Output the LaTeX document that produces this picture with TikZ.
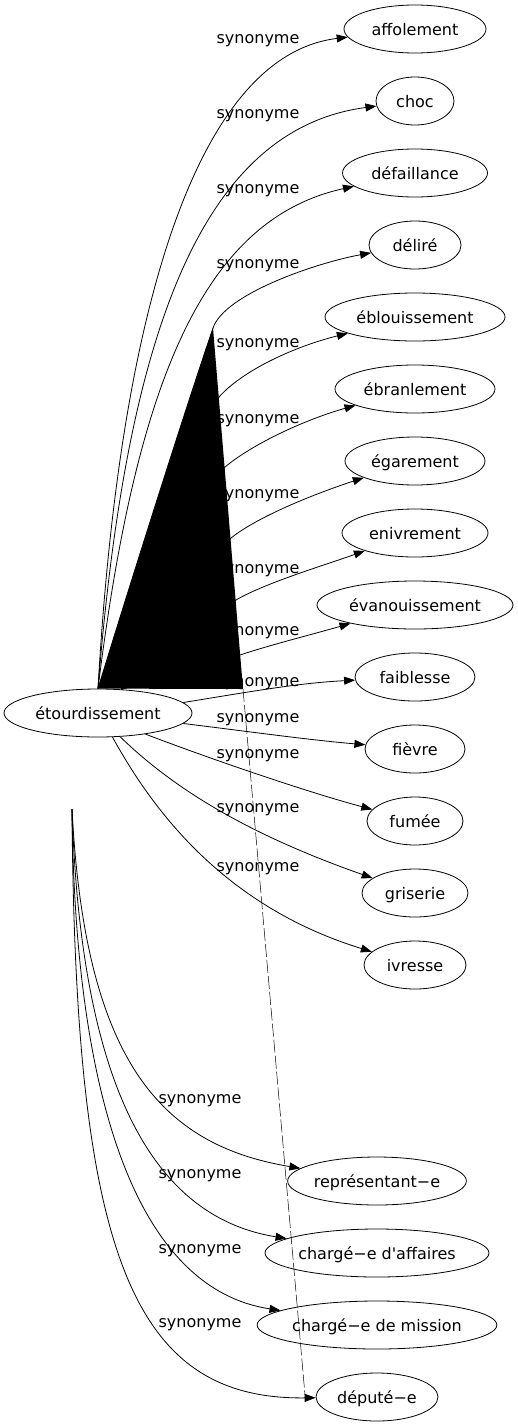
\documentclass[tikz,border=0pt]{standalone}
\usepackage{fontspec}
\newfontfamily\motfont{DejaVu Sans}
\usepackage{tikz}
\usetikzlibrary{shapes.geometric,arrows.meta}

\tikzset{
  mot/.style={ellipse, draw, line width=0.8pt, inner sep=0pt, minimum height=48pt,
    text height=12pt, text depth=0pt, font=\motfont\fontsize{16}{19}\selectfont},
  lbl/.style={inner sep=0pt, text height=10pt, text depth=0pt, font=\motfont\fontsize{16}{19}\selectfont},
  syn/.style={-{Triangle[length=11pt,width=8pt]}, line width=0.8pt},
}

\begin{document}
\begin{tikzpicture}[x=1pt, y=-1pt]
      \useasboundingbox (0,0) rectangle (518,1427);
      % Mot de depart
      \node[mot, minimum width=188pt] (etour) at (98,713) {étourdissement};
      \coordinate (hub) at (72,809);
      % Synonymes
      \node[mot, minimum width=142pt] (affol) at (415,29) {affolement};
      \node[mot, minimum width=78pt] (choc) at (415,101) {choc};
      \node[mot, minimum width=145pt] (defai) at (415,173) {défaillance};
      \node[mot, minimum width=92pt] (delir) at (415,245) {déliré};
      \node[mot, minimum width=180pt] (eblou) at (415,317) {éblouissement};
      \node[mot, minimum width=160pt] (ebran) at (415,389) {ébranlement};
      \node[mot, minimum width=140pt] (egare) at (415,461) {égarement};
      \node[mot, minimum width=146pt] (enivr) at (415,533) {enivrement};
      \node[mot, minimum width=196pt] (evano) at (415,605) {évanouissement};
      \node[mot, minimum width=120pt] (faibl) at (415,677) {faiblesse};
      \node[mot, minimum width=100pt] (fievr) at (415,749) {fièvre};
      \node[mot, minimum width=96pt] (fumee) at (415,821) {fumée};
      \node[mot, minimum width=106pt] (grise) at (415,893) {griserie};
      \node[mot, minimum width=102pt] (ivres) at (415,965) {ivresse};
      \node[mot, minimum width=178pt] (repre) at (377,1181) {représentant−e};
      \node[mot, minimum width=224pt] (chaff) at (377,1253) {chargé−e d'affaires};
      \node[mot, minimum width=238pt] (chmis) at (377,1325) {chargé−e de mission};
      \node[mot, minimum width=122pt] (deput) at (377,1397) {député−e};
      % Etiquettes
      \node[lbl] (l1) at (258,38) {synonyme};
      \node[lbl] (l2) at (258,113) {synonyme};
      \node[lbl] (l3) at (258,188) {synonyme};
      \node[lbl] (l4) at (258,263) {synonyme};
      \node[lbl] (l5) at (258,342) {synonyme};
      \node[lbl] (l6) at (258,418) {synonyme};
      \node[lbl] (l7) at (258,493) {synonyme};
      \node[lbl] (l8) at (258,568) {synonyme};
      \node[lbl] (l9) at (258,630) {synonyme};
      \node[lbl] (l10) at (258,681) {synonyme};
      \node[lbl] (l11) at (258,717) {synonyme};
      \node[lbl] (l12) at (258,753) {synonyme};
      \node[lbl] (l13) at (258,807) {synonyme};
      \node[lbl] (l14) at (258,866) {synonyme};
      \node[lbl] (l15) at (200,1098) {synonyme};
      \node[lbl] (l16) at (200,1173) {synonyme};
      \node[lbl] (l17) at (200,1248) {synonyme};
      \node[lbl] (l18) at (200,1322) {synonyme};

      % Aretes vers le haut
      \draw[syn] (etour.north) .. controls (120,300) and (200,55) .. (affol);
      \draw[syn] (etour.north) .. controls (125,350) and (195,130) .. (choc);
      \draw[syn] (etour.north) .. controls (135,390) and (200,220) .. (defai);
      \draw[syn] (etour.north) .. controls (125,600) and (185,410) .. (213,328)
                 .. controls (225,293) and (320,262) .. (delir);
      \draw[syn] (etour.45) -- (219,397) .. controls (245,368) and (300,345) .. (eblou);
      \draw[syn] (etour.45) -- (225,467) .. controls (255,442) and (310,418) .. (ebran);
      \draw[syn] (etour.45) -- (231,538) .. controls (260,515) and (320,492) .. (egare);
      \draw[syn] (etour.45) -- (236,600) .. controls (265,583) and (325,565) .. (enivr);
      \draw[syn] (etour.45) -- (240,655) .. controls (270,645) and (310,635) .. (evano);
      % Aretes vers la droite
      \draw[syn] (etour.7) .. controls (260,690) and (300,683) .. (faibl);
      \draw[syn] (etour.-7) .. controls (260,733) and (310,740) .. (fievr);
      \draw[syn] (etour.-24) .. controls (200,755) and (300,790) .. (fumee);
      \draw[syn] (etour.-47) .. controls (175,790) and (250,835) .. (grise);
      \draw[syn] (etour.-59) .. controls (150,805) and (220,905) .. (ivres);
      % Aretes du bas
      \draw[syn] (hub) .. controls (85,1060) and (160,1145) .. (repre);
      \draw[syn] (hub) .. controls (80,1060) and (140,1215) .. (chaff);
      \draw[syn] (hub) .. controls (75,1120) and (145,1290) .. (chmis);
      \draw[syn] (hub) .. controls (75,1250) and (130,1400) .. (deput);

      % Tache noire et trait
      \coordinate (tip) at (213,328);
      \coordinate (base) at (243,689);
      \coordinate (bout) at (305,1395);
      \fill (etour.north) .. controls (125,600) and (185,410) .. (tip) -- (base) -- cycle;
      \draw[line width=0.5pt, dash pattern=on 13pt off 3pt] (base) -- (bout);
\end{tikzpicture}
\end{document}
